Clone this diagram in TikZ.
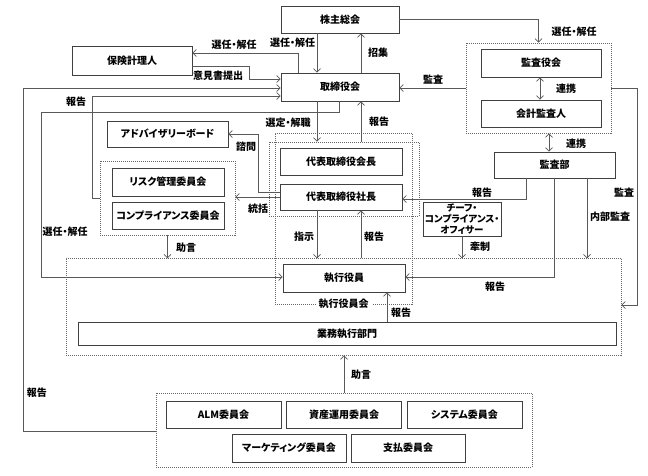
\documentclass[tikz,border=0pt]{standalone}
\usepackage{fontspec}
\setmainfont{Noto Sans CJK JP}[RawFeature=+palt]
\usetikzlibrary{arrows.meta}
\tikzset{
  box/.style={draw=black!75, line width=0.7pt, minimum height=27pt, inner sep=1pt},
  grp/.style={draw=black!60, dash pattern=on 1pt off 1pt, line width=0.6pt},
  arr/.style={-{Straight Barb[length=3.5pt,width=7pt]}, draw=black!65, line width=0.7pt},
  biarr/.style={{Straight Barb[length=3.5pt,width=7pt]}-{Straight Barb[length=3.5pt,width=7pt]}, draw=black!65, line width=0.7pt},
  lbl/.style={inner sep=0pt}
}
\begin{document}
\begin{tikzpicture}[x=1pt,y=-1pt, font=\fontsize{10}{11}\selectfont\bfseries]
\useasboundingbox (0,0) rectangle (648,475);
% groups
\node[grp, minimum width=145pt, minimum height=90pt] (kansagrp) at (538.5,88) {};
\node[grp, minimum width=135pt, minimum height=74pt] (riskgrp) at (167.5,198) {};
\node[grp, minimum width=150pt, minimum height=74pt] (daihyogrp) at (344,179) {};
\node[grp, minimum width=137pt, minimum height=171pt] (kaigrp) at (343.5,218.5) {};
\node[grp, minimum width=555pt, minimum height=97pt] (bigbox) at (343.5,306.5) {};
\node[grp, minimum width=376pt, minimum height=74pt] (lowgrp) at (344,430) {};
\node[lbl, fill=white, inner xsep=3pt, inner ysep=1pt] (kainame) at (343.5,304) {執行役員会};
% boxes
\node[box, minimum width=118pt] (kabu) at (340,19.5) {株主総会};
\node[box, minimum width=120pt, minimum height=29pt] (hoken) at (132,60.5) {保険計理人};
\node[box, minimum width=118pt, minimum height=28pt] (tori) at (340,87) {取締役会};
\node[box, minimum width=120pt, minimum height=28pt] (kansayaku) at (541,63) {監査役会};
\node[box, minimum width=120pt] (kaikei) at (541,113.5) {会計監査人};
\node[box, minimum width=121pt, minimum height=26pt] (kansabu) at (554.5,165) {監査部};
\node[box, minimum width=121pt, minimum height=26pt] (advisory) at (167.5,134) {アドバイザリーボード};
\node[box, minimum width=112pt, minimum height=28pt] (risk) at (168,182) {リスク管理委員会};
\node[box, minimum width=112pt] (comp) at (168,215.5) {コンプライアンス委員会};
\node[box, minimum width=122pt] (kaicho) at (341,161.5) {代表取締役会長};
\node[box, minimum width=122pt, minimum height=26pt] (shacho) at (341,197) {代表取締役社長};
\node[box, minimum width=122pt, minimum height=28pt] (shikko) at (344,278) {執行役員};
\node[box, minimum width=78pt, minimum height=34pt, align=center, font=\fontsize{9.5}{11}\selectfont\bfseries] (cco) at (462,219) {チーフ・\\コンプライアンス・\\オフィサー};
\node[box, minimum width=538pt, minimum height=23pt] (gyomu) at (347,333.5) {業務執行部門};
\node[box, minimum width=115pt] (alm) at (223.5,414.5) {ALM委員会};
\node[box, minimum width=115pt] (shisan) at (344,414.5) {資産運用委員会};
\node[box, minimum width=115pt] (system) at (464.5,414.5) {システム委員会};
\node[box, minimum width=114pt, minimum height=28pt] (marketing) at (289,448) {マーケティング委員会};
\node[box, minimum width=114pt, minimum height=28pt] (shiharai) at (408,448) {支払委員会};
% connectors
\draw[arr] ([xshift=-23pt]kabu.south) -- ([xshift=-23pt]tori.north);
\draw[arr] ([xshift=-42pt]tori.north) |- ([yshift=7.5pt]hoken.east);
\draw[arr] ([yshift=-5.5pt]hoken.east) -| (249,79) -- ([yshift=8pt]tori.west);
\draw[arr] ([yshift=-1pt]lowgrp.west) -| (23,88) -- ([yshift=-1pt]tori.west);
\draw[arr] (riskgrp.west) -| (92,96) -- ([yshift=-9pt]tori.west);
\draw[arr] ([xshift=-1pt]tori.south) |- (41,112) |- ([yshift=1pt]shikko.west);
\draw[arr] ([xshift=-23pt]tori.south) -- ([xshift=-27pt]daihyogrp.north);
\draw[arr] ([xshift=17pt]daihyogrp.north) -- ([xshift=21pt]tori.south);
\draw[arr] ([xshift=21pt]tori.north) -- ([xshift=21pt]kabu.south);
\draw[arr] (kansagrp.west) -- (kansagrp.west -| tori.east);
\draw[arr] (kabu.east) -| (kansagrp.north);
\draw[biarr] ([xshift=-1pt]kansayaku.south) -- ([xshift=-1pt]kaikei.north);
\draw[biarr] ([xshift=10.5pt]kansagrp.south) -- ([xshift=-5.5pt]kansabu.north);
\draw[arr] (kansagrp.east) -| (637,305) -- ([yshift=1.5pt]bigbox.east);
\draw[arr] ([xshift=-28.5pt]kansabu.south) |- ([yshift=-2pt]shacho.east);
\draw[arr] (kansabu.south) |- ([yshift=1pt]shikko.east);
\draw[arr] ([xshift=32.5pt]kansabu.south) -- ++(0,80);
\draw[arr] (cco.south) -- ++(0,22);
\draw[arr] (riskgrp.south) -- ++(0,23);
\draw[arr] (shacho.west) -- (shacho.west -| riskgrp.east);
\draw[arr] ([yshift=5pt]shacho.west) -| (258,134) -- (advisory.east);
\draw[arr] ([xshift=-24pt]shacho.south) -- ++(0,48);
\draw[arr] ([xshift=20pt]shacho.south) ++(0,48) -- ++(0,-48);
\draw[arr] ([xshift=40pt]gyomu.north) -- ([xshift=43pt]shikko.south);
\draw[arr] (lowgrp.north) -- (lowgrp.north |- bigbox.south);
% labels
\node[lbl] (l1) at (292.5,43) {選任・解任};
\node[lbl] (l2) at (234,45) {選任・解任};
\node[lbl] (l3) at (218,76) {意見書提出};
\node[lbl] (l4) at (76,102) {報告};
\node[lbl] (l5) at (37,393) {報告};
\node[lbl] (l6) at (65,232) {選任・解任};
\node[lbl] (l7) at (288,123) {選定・解職};
\node[lbl] (l8) at (379,122) {報告};
\node[lbl] (l9) at (378,53) {招集};
\node[lbl] (l10) at (433,80) {監査};
\node[lbl] (l11) at (574,32) {選任・解任};
\node[lbl] (l12) at (566,89) {連携};
\node[lbl] (l13) at (576,144) {連携};
\node[lbl] (l14) at (624,193) {監査};
\node[lbl] (l15) at (482,193) {報告};
\node[lbl] (l16) at (495,287) {報告};
\node[lbl] (l17) at (610,217) {内部監査};
\node[lbl] (l18) at (480,247) {牽制};
\node[lbl] (l19) at (186,248) {助言};
\node[lbl] (l20) at (258,209) {統括};
\node[lbl] (l21) at (246,147) {諮問};
\node[lbl] (l22) at (304,237) {指示};
\node[lbl] (l23) at (374,237) {報告};
\node[lbl] (l24) at (401,313) {報告};
\node[lbl] (l25) at (361,375) {助言};
\end{tikzpicture}
\end{document}
